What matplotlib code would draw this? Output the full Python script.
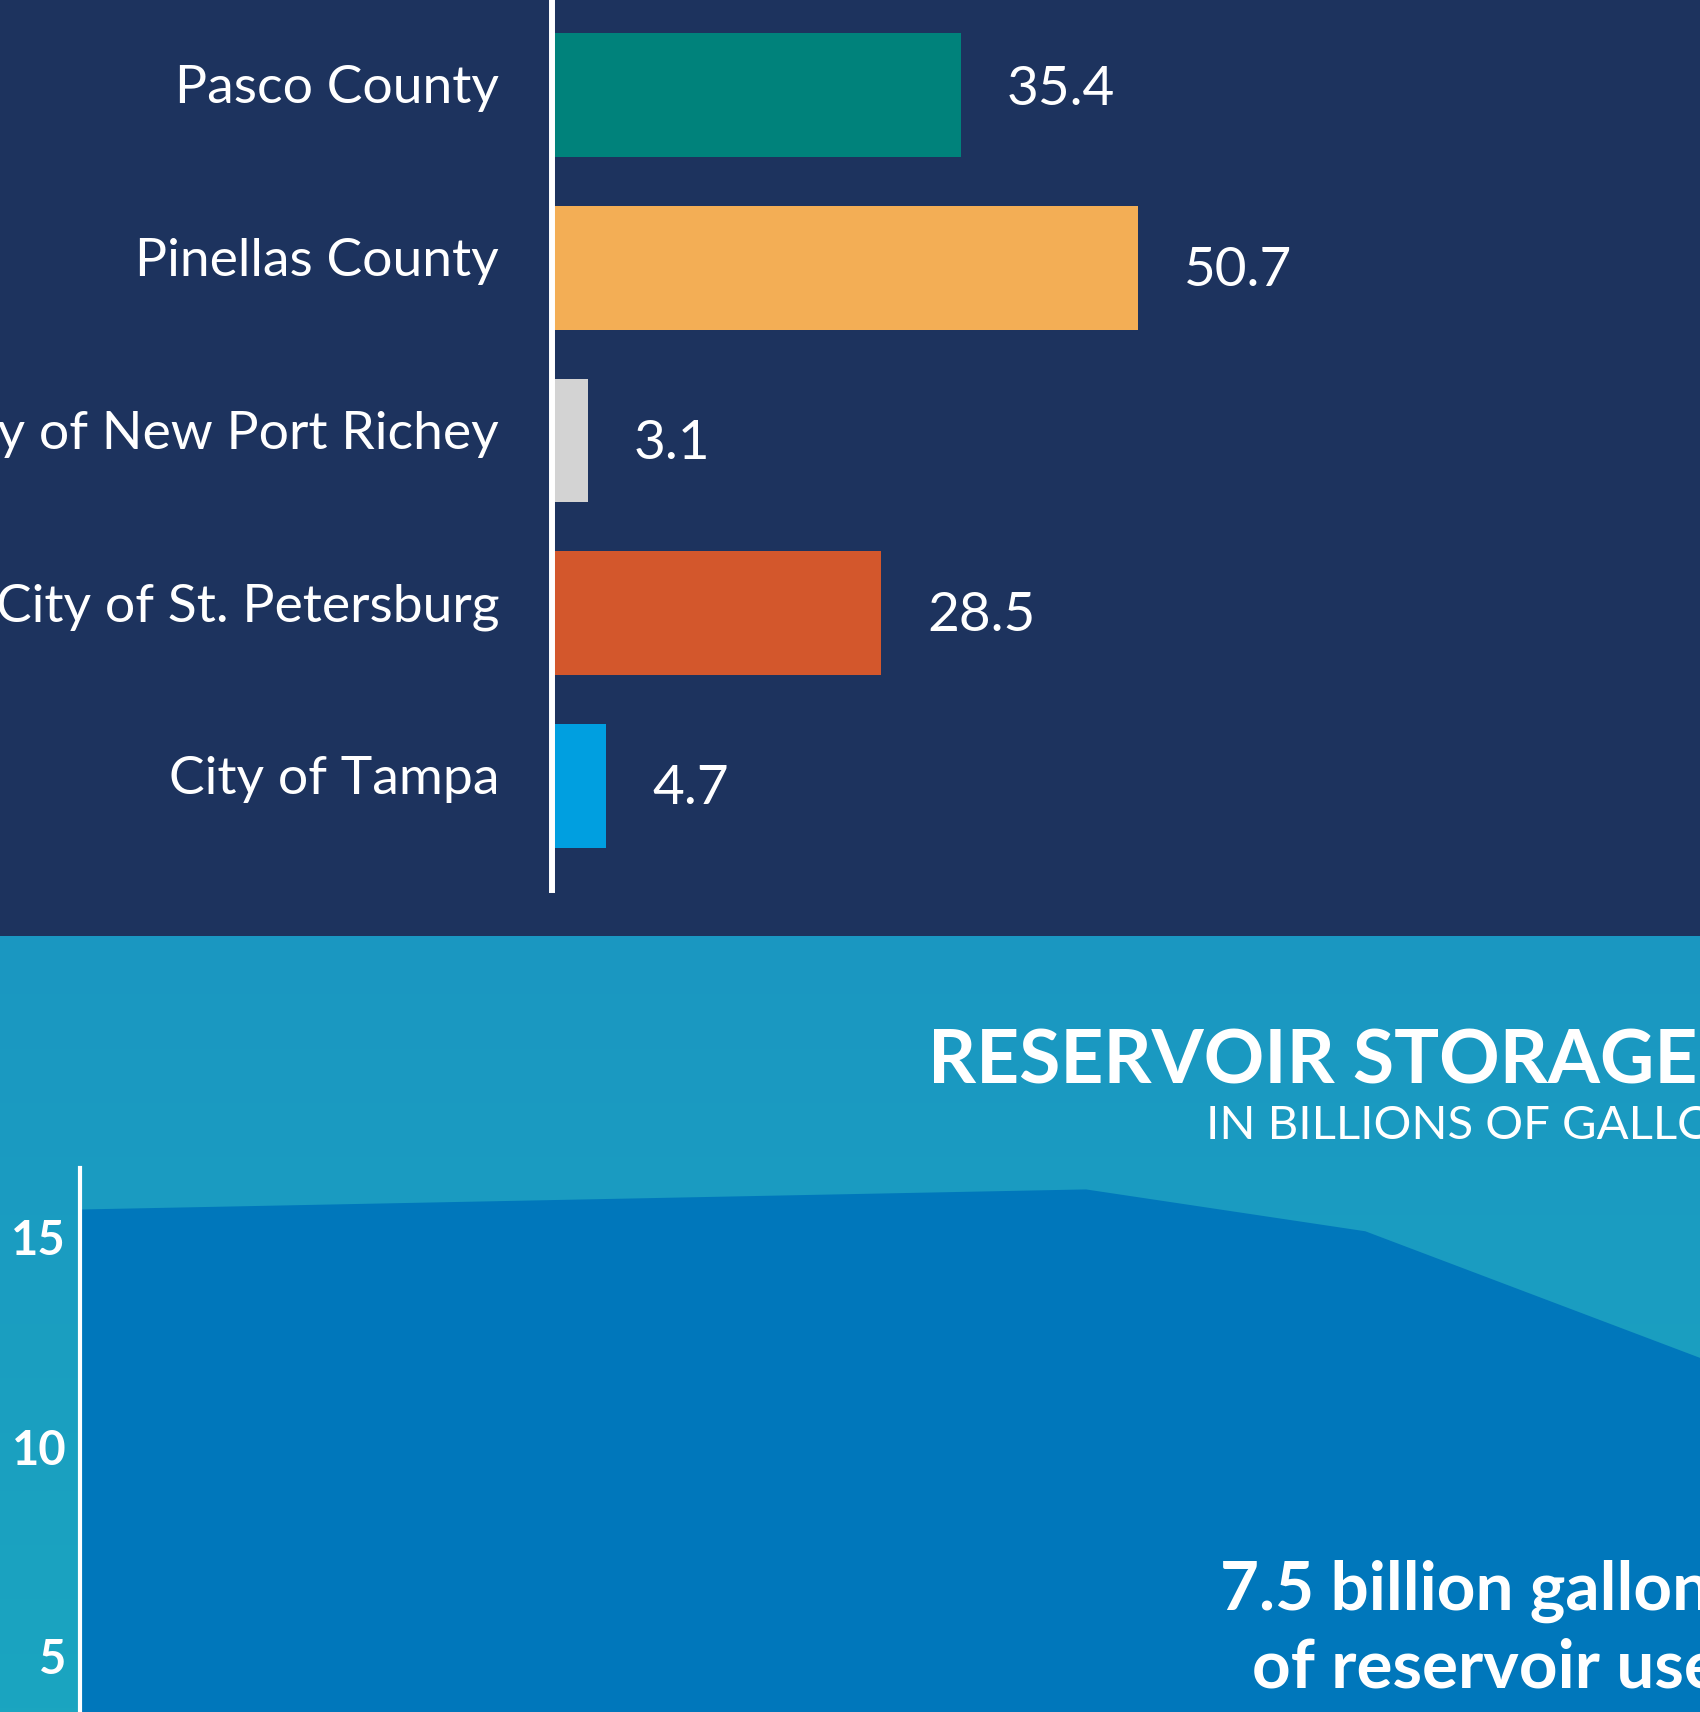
import numpy as np
import matplotlib
matplotlib.use("Agg")
import matplotlib.pyplot as plt
from matplotlib.transforms import offset_copy

plt.rcParams["font.family"] = ["Lato", "DejaVu Sans"]

# Data
agencies = ["Pasco County", "Pinellas County", "City of New Port Richey",
            "City of St. Petersburg", "City of Tampa"]
usage = [35.4, 50.7, 3.1, 28.5, 4.7]
bar_colors = ["#00827b", "#f3ae55", "#d3d3d3", "#d3572c", "#009fe0"]

storage_x = [0, 36, 46, 58]
storage_y = [15.68, 16.16, 15.16, 12.13]
storage_ticks = [5, 10, 15]

NAVY = "#1d335e"
LIGHT = "#1a97c2"
AREA = "#0077bb"

W, H = 1700, 1712
fig = plt.figure(figsize=(W / 100, H / 100), dpi=100)

def frac(x0, y0, x1, y1):
    # pixel box (top-left origin) -> figure fractions
    return [x0 / W, 1 - y1 / H, (x1 - x0) / W, (y1 - y0) / H]

# Background panels
bg = fig.add_axes([0, 0, 1, 1], zorder=0)
grad = np.linspace(0, 1, 200)[:, None]
cmap = matplotlib.colors.LinearSegmentedColormap.from_list("bg", [LIGHT, "#1ba5c0"])
bg.imshow(grad, cmap=cmap, extent=[0, W, H, 936], aspect="auto")
bg.add_patch(plt.Rectangle((0, 0), W, 936, color=NAVY, lw=0))
bg.set_xlim(0, W)
bg.set_ylim(H, 0)
bg.axis("off")

# Bar chart
ax = fig.add_axes(frac(552, 0, W, 890), zorder=2)
ax.patch.set_alpha(0)
pos = np.arange(len(agencies))
ax.barh(pos, usage, height=0.717, color=bar_colors, left=0)
ax.set_xlim(0, 99.3)
ax.set_ylim(4.601, -0.549)
for s in ["top", "right", "bottom"]:
    ax.spines[s].set_visible(False)
ax.spines["left"].set_color("white")
ax.spines["left"].set_linewidth(4.3)
ax.set_xticks([])
ax.set_yticks([])

lab_tr = offset_copy(ax.transData, fig=fig, x=-38, y=-6, units="points")
for p, name in zip(pos, agencies):
    ax.text(0, p, name, transform=lab_tr, ha="right", va="baseline",
            color="white", fontsize=38.5, clip_on=False)
for p, v in zip(pos, usage):
    dy = -7 if p == 0 else -13
    ax.annotate(f"{v}", (v, p), xytext=(33, dy), textcoords="offset points",
                ha="left", va="baseline", color="white", fontsize=39.5)

# Reservoir storage area chart
ax2 = fig.add_axes(frac(80, 1168, W, H), zorder=2)
ax2.patch.set_alpha(0)
ax2.fill_between(storage_x, storage_y, 0, color=AREA, lw=0)
ax2.set_xlim(0, 58)
ax2.set_ylim(3.66, 16.66)
for s in ["top", "right", "bottom"]:
    ax2.spines[s].set_visible(False)
ax2.spines["left"].set_color("white")
ax2.spines["left"].set_linewidth(3)
ax2.set_xticks([])
ax2.set_yticks(storage_ticks)
ax2.set_yticklabels([str(t) for t in storage_ticks], color="white",
                    fontsize=34, fontweight="bold")
ax2.tick_params(axis="y", length=0, pad=10)

fig.text(928 / W, 1 - 1083 / H, "RESERVOIR STORAGE", color="white",
         fontsize=54, fontweight="bold", ha="left", va="baseline")
fig.text(1206 / W, 1 - 1139 / H, "IN BILLIONS OF GALLONS", color="white",
         fontsize=34, fontweight="normal", ha="left", va="baseline")
fig.text(1220 / W, 1 - 1610 / H, "7.5 billion gallons", color="white",
         fontsize=48.5, fontweight="bold", ha="left", va="baseline", zorder=3)
fig.text(1252 / W, 1 - 1688 / H, "of reservoir use", color="white",
         fontsize=48.5, fontweight="bold", ha="left", va="baseline", zorder=3)

fig.savefig("out.png", dpi=100)
